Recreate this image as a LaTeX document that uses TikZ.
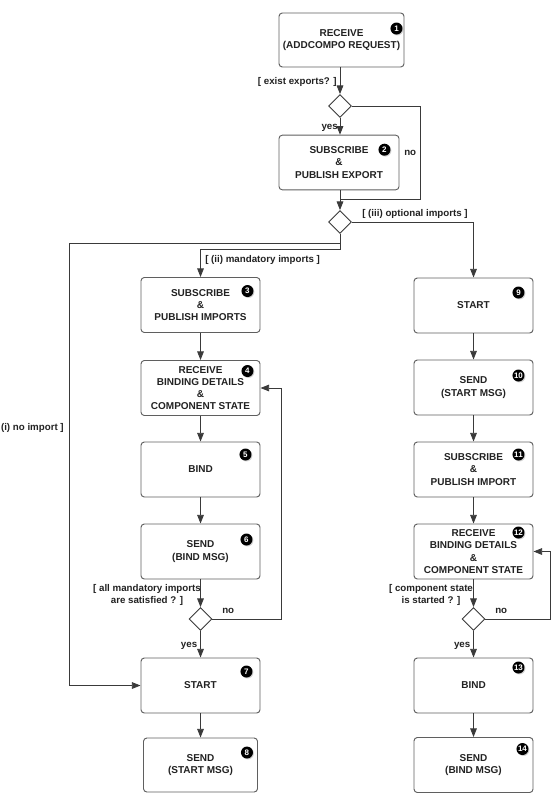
\documentclass[tikz,border=0pt]{standalone}
\usepackage{fontspec}
\setmainfont{Liberation Sans}
\usetikzlibrary{shapes.geometric,arrows.meta,calc,shadows}
\definecolor{linec}{HTML}{3A3A3A}
\definecolor{boxc}{HTML}{5F5F5F}
\definecolor{txt}{HTML}{222222}
\begin{document}
\begin{tikzpicture}[x=0.75pt,y=-0.75pt,
  stepbox/.style={draw=boxc,line width=0.7pt,rounded corners=2.5pt,fill=white,
    minimum width=89.25pt,minimum height=41.25pt,align=center,inner sep=0pt,
    text=txt,font=\bfseries\fontsize{7.5}{9.2}\selectfont},
  decision/.style={diamond,draw=linec,line width=0.65pt,fill=white,minimum width=17.25pt,
    minimum height=17.25pt,inner sep=0pt},
  badge/.style={circle,fill=black,text=white,inner sep=0pt,minimum size=9pt,
    font=\bfseries\fontsize{6}{6}\selectfont,
    drop shadow={opacity=0.35,shadow xshift=0.7pt,shadow yshift=-0.7pt}},
  lbl/.style={text=txt,font=\bfseries\fontsize{7.3}{9.1}\selectfont,inner sep=0pt,align=center},
  conn/.style={draw=linec,line width=0.65pt},
  arr/.style={conn,-{Triangle[length=6.5pt,width=5pt]}}
]
\useasboundingbox (0,0) rectangle (552,798);

% top
\node[stepbox,minimum width=93.75pt,minimum height=40.5pt] (b1) at (341.5,40) {RECEIVE\\(ADDCOMPO REQUEST)};
\node[decision] (d1) at (340,106) {};
\node[stepbox,minimum width=90pt,minimum height=41pt] (b2) at (339,162.5) {SUBSCRIBE\\\&\\PUBLISH EXPORT};
\node[decision] (d2) at (340,222) {};

% left column
\node[stepbox] (b3) at (200.5,305) {SUBSCRIBE\\\&\\PUBLISH IMPORTS};
\node[stepbox] (b4) at (200.5,388) {RECEIVE\\BINDING DETAILS\\\&\\COMPONENT STATE};
\node[stepbox] (b5) at (200.5,469.5) {BIND};
\node[stepbox] (b6) at (200.5,551.5) {SEND\\(BIND MSG)};
\node[decision] (d6) at (200.5,619) {};
\node[stepbox] (b7) at (200.5,685.5) {START};
\node[stepbox,minimum width=85.5pt,minimum height=40.5pt] (b8) at (200.5,765) {SEND\\(START MSG)};

% right column
\node[stepbox] (b9) at (473.5,305.5) {START};
\node[stepbox] (b10) at (473.5,387.5) {SEND\\(START MSG)};
\node[stepbox] (b11) at (473.5,469.5) {SUBSCRIBE\\\&\\PUBLISH IMPORT};
\node[stepbox] (b12) at (473.5,551.5) {RECEIVE\\BINDING DETAILS\\\&\\COMPONENT STATE};
\node[decision] (d12) at (473.5,619) {};
\node[stepbox] (b13) at (473.5,685.5) {BIND};
\node[stepbox] (b14) at (473.5,765) {SEND\\(BIND MSG)};

% badges
\node[badge] (n1) at ($(b1.north east)+(-8,16)$) {1};
\node[badge] (n2) at ($(b2.north east)+(-15,15)$) {2};
\node[badge] (n3) at ($(b3.north east)+(-13,14)$) {3};
\node[badge] (n4) at ($(b4.north east)+(-13,11)$) {4};
\node[badge] (n5) at ($(b5.north east)+(-15,13)$) {5};
\node[badge] (n6) at ($(b6.north east)+(-14,16)$) {6};
\node[badge] (n7) at ($(b7.north east)+(-14,14)$) {7};
\node[badge] (n8) at ($(b8.north east)+(-11,15)$) {8};
\node[badge] (n9) at ($(b9.north east)+(-15,15)$) {9};
\node[badge] (n10) at ($(b10.north east)+(-15,16)$) {10};
\node[badge] (n11) at ($(b11.north east)+(-15,13)$) {11};
\node[badge] (n12) at ($(b12.north east)+(-15,9)$) {12};
\node[badge] (n13) at ($(b13.north east)+(-15,10)$) {13};
\node[badge] (n14) at ($(b14.north east)+(-11,12)$) {14};

% helper coordinates
\coordinate (rno1) at (420,199);
\coordinate (mA) at (340,243);
\coordinate (mB) at (340,249);
\coordinate (outer) at (69,243);
\coordinate (rL) at (281,0);
\coordinate (rR) at (550.5,0);

% top connectors
\draw[arr] (d1 |- b1.south) -- (d1.north);
\draw[arr] (d1.south) -- (d1 |- b2.north);
\draw[conn] (d1.east) -| (rno1) -- (rno1 -| d2);
\draw[arr] (d2 |- b2.south) -- (d2.north);

% branches from d2
\draw[arr] (d2.east) -| (b9.north);
\draw[arr] (d2.south) -- (mB) -| (b3.north);
\draw[arr] (d2.south) -- (mA) -- (outer) |- (b7.west);

% left column
\draw[arr] (b3) -- (b4);
\draw[arr] (b4) -- (b5);
\draw[arr] (b5) -- (b6);
\draw[arr] (b6) -- (d6);
\draw[arr] (d6) -- (b7);
\draw[arr] (d6.east) -| (rL |- b4.east) -- (b4.east);
\draw[arr] (b7) -- (b8);

% right column
\draw[arr] (b9) -- (b10);
\draw[arr] (b10) -- (b11);
\draw[arr] (b11) -- (b12);
\draw[arr] (b12) -- (d12);
\draw[arr] (d12) -- (b13);
\draw[arr] (d12.east) -| (rR |- b12.east) -- (b12.east);
\draw[arr] (b13) -- (b14);

% labels
\node[lbl,anchor=east] (l1) at (337,82) {[ exist exports? ]};
\node[lbl,anchor=east] (l2) at (338,127.5) {yes};
\node[lbl,anchor=west] (l3) at (404,153) {no};
\node[lbl,anchor=west] (l4) at (362,214) {[ (iii) optional imports ]};
\node[lbl,anchor=west] (l5) at (205,259.5) {[ (ii) mandatory imports ]};
\node[lbl,anchor=east] (l6) at (64,427.5) {(i) no import ]};
\node[lbl] (l7) at (147,595) {[ all mandatory imports\\are satisfied ? ]};
\node[lbl,anchor=west] (l8) at (222,611) {no};
\node[lbl,anchor=east] (l9) at (197.5,646) {yes};
\node[lbl] (l10) at (431,595) {[ component state\\is started ? ]};
\node[lbl,anchor=west] (l11) at (495,611) {no};
\node[lbl,anchor=east] (l12) at (470.5,646) {yes};
\end{tikzpicture}
\end{document}
